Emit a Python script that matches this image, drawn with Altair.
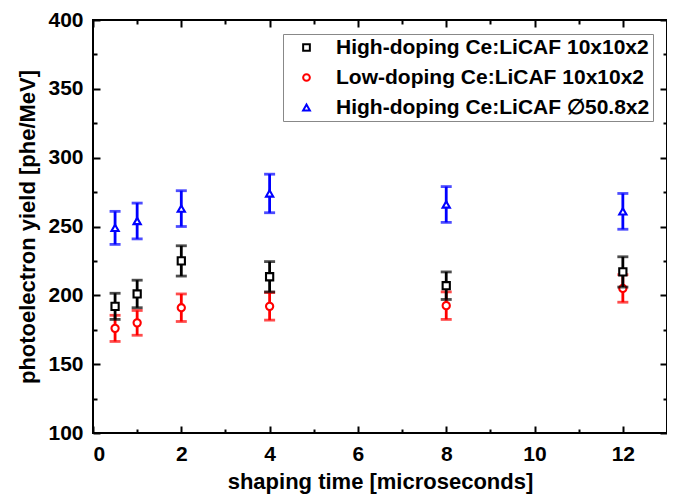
import altair as alt
import pandas as pd

series_names = [
    "High-doping Ce:LiCAF 10x10x2",
    "Low-doping Ce:LiCAF 10x10x2",
    "High-doping Ce:LiCAF \u220550.8x2",
]
series_colors = ["#000000", "#ff0000", "#0000ff"]
series_shapes = ["square", "circle", "triangle-up"]

shaping_time = [0.5, 1, 2, 4, 8, 12]
high_small_y = [192, 201, 225, 213.5, 207, 217]
high_small_err = [9.5, 10, 11, 11, 10, 11]
low_small_y = [176, 180, 191, 192, 192.5, 205]
low_small_err = [9.5, 9, 10, 10, 10, 10]
high_large_y = [249, 254, 263, 274, 266, 261]
high_large_err = [12, 13, 13, 14, 13, 13]

x_major = [0, 2, 4, 6, 8, 10, 12]
x_minor = [1, 3, 5, 7, 9, 11]
y_major = [100, 150, 200, 250, 300, 350, 400]
y_minor = [125, 175, 225, 275, 325, 375]

values_by_series = {
    series_names[0]: (high_small_y, high_small_err),
    series_names[1]: (low_small_y, low_small_err),
    series_names[2]: (high_large_y, high_large_err),
}
color_by_series = dict(zip(series_names, series_colors))


def frame(name):
    ys, errs = values_by_series[name]
    return pd.DataFrame({
        "series": name,
        "x": shaping_time,
        "y": ys,
        "lo": [a - b for a, b in zip(ys, errs)],
        "hi": [a + b for a, b in zip(ys, errs)],
    })


xscale = alt.Scale(domain=[0, 13], nice=False, zero=False)
yscale = alt.Scale(domain=[100, 400], nice=False, zero=False)
cscale = alt.Scale(domain=series_names, range=series_colors)
sscale = alt.Scale(domain=series_names, range=series_shapes)

FONT = "Liberation Sans"


def xaxis(kind):
    if kind == "bottom_major":
        return alt.Axis(orient="bottom", values=x_major, tickSize=7, offset=-7,
                        labelPadding=10, format="d",
                        title="shaping time [microseconds]", titlePadding=7)
    if kind == "bottom_minor":
        return alt.Axis(orient="bottom", values=x_minor, tickSize=4, offset=-4,
                        labels=False, title=None)
    if kind == "top_major":
        return alt.Axis(orient="top", values=x_major, tickSize=7, offset=-7,
                        labels=False, title=None)
    if kind == "top_minor":
        return alt.Axis(orient="top", values=x_minor, tickSize=4, offset=-4,
                        labels=False, title=None)
    return None


def yaxis(kind):
    if kind == "left_major":
        return alt.Axis(orient="left", values=y_major, tickSize=7, offset=-7,
                        labelPadding=10, format="d",
                        title="photoelectron yield [phe/MeV]", titlePadding=8)
    if kind == "left_minor":
        return alt.Axis(orient="left", values=y_minor, tickSize=4, offset=-4,
                        labels=False, title=None)
    if kind == "right_major":
        return alt.Axis(orient="right", values=y_major, tickSize=7, offset=-7,
                        labels=False, title=None)
    if kind == "right_minor":
        return alt.Axis(orient="right", values=y_minor, tickSize=4, offset=-4,
                        labels=False, title=None)
    return None


axis_plan = [
    ("bottom_major", "left_major"),
    ("bottom_minor", "left_minor"),
    ("top_major", "right_major"),
    ("top_minor", "right_minor"),
    (None, None),
    (None, None),
]

legend = alt.Legend(title=None)

draw_order = [series_names[2], series_names[1], series_names[0]]
layers = []
i = 0
for name in draw_order:
    df = frame(name)
    xa, ya = axis_plan[i]
    eb = alt.Chart(df).mark_errorbar(ticks=True, size=11, thickness=2.8).encode(
        x=alt.X("x:Q", scale=xscale, axis=xaxis(xa)),
        y=alt.Y("lo:Q", scale=yscale, axis=yaxis(ya)),
        y2="hi:Q",
        color=alt.value(color_by_series[name]),
    )
    i += 1
    layers.append(eb)
    xa, ya = axis_plan[i]
    pt = alt.Chart(df).mark_point(filled=False, fill="white", size=52, strokeWidth=2.1, opacity=1).encode(
        x=alt.X("x:Q", scale=xscale, axis=xaxis(xa)),
        y=alt.Y("y:Q", scale=yscale, axis=yaxis(ya)),
        color=alt.Color("series:N", scale=cscale, legend=legend),
        shape=alt.Shape("series:N", scale=sscale, legend=legend),
    )
    i += 1
    layers.append(pt)

chart = alt.layer(*layers).resolve_axis(x="independent", y="independent").properties(
    width=574,
    height=413,
    autosize=alt.AutoSizeParams(type="none"),
    padding={"left": 85, "top": 12, "right": 0, "bottom": 70},
).configure_view(
    stroke="black", strokeWidth=2
).configure_axis(
    grid=False,
    domain=False,
    tickColor="black",
    tickWidth=2,
    labelFont=FONT,
    labelFontWeight="bold",
    labelFontSize=21,
    labelColor="black",
    titleFont=FONT,
    titleFontWeight="bold",
    titleFontSize=22,
    titleColor="black",
).configure_legend(
    orient="none",
    legendX=190,
    legendY=14,
    padding=3,
    symbolOffset=10,
    labelOffset=19,
    labelFont=FONT,
    labelFontWeight="bold",
    labelFontSize=21,
    labelColor="black",
    labelLimit=400,
    rowPadding=8,
    symbolSize=45,
    symbolStrokeWidth=2,
    strokeColor="#888888",
    fillColor="white",
)

chart.save("out.html", embed_options={"renderer": "svg", "actions": False})
